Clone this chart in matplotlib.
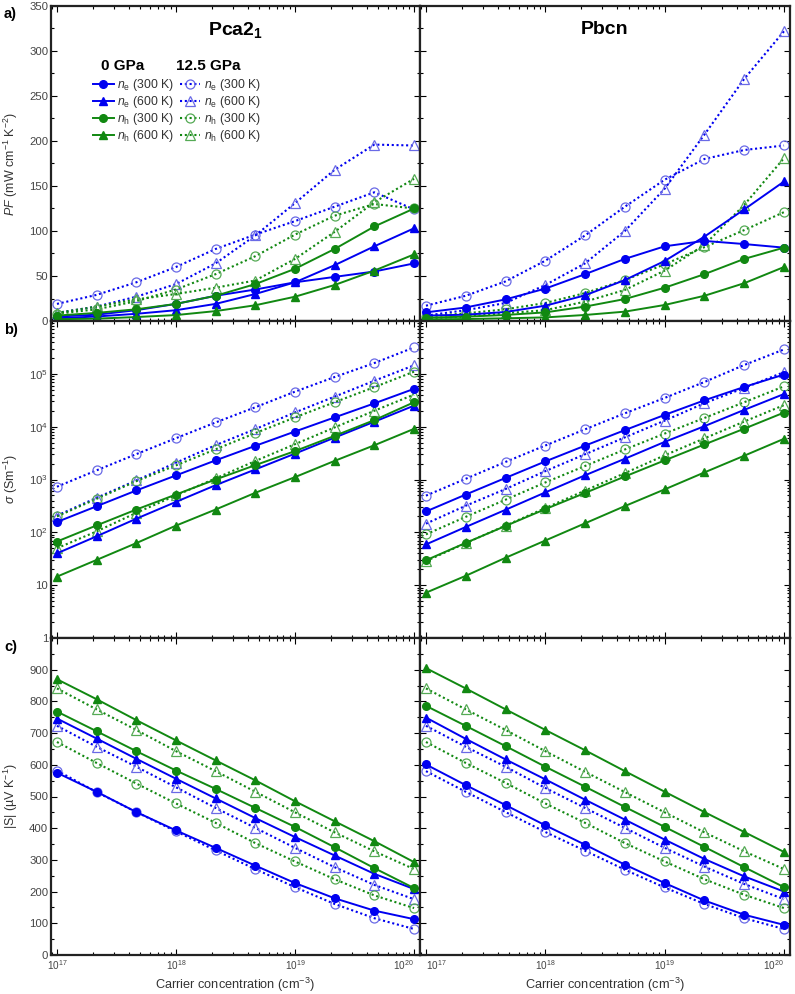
import numpy as np
import matplotlib.pyplot as plt
from matplotlib.ticker import MultipleLocator, LogLocator, NullFormatter, FixedLocator, FixedFormatter

plt.rcParams['font.family'] = ['Liberation Sans', 'DejaVu Sans']
plt.rcParams['mathtext.fontset'] = 'custom'
plt.rcParams['mathtext.rm'] = 'Liberation Sans'
plt.rcParams['mathtext.it'] = 'Liberation Sans:italic'
plt.rcParams['mathtext.bf'] = 'Liberation Sans:bold'

# === Data ===
carrier = [1e17, 2.15e17, 4.64e17, 1e18, 2.15e18, 4.64e18, 1e19, 2.15e19, 4.64e19, 1e20]

# Pca2_1, power factor (mW cm-1 K-2)
pca_pf_ne300_0 = [5, 7, 12, 19, 28, 35, 43, 49, 55, 64]
pca_pf_ne600_0 = [3, 5, 8, 12, 19, 30, 43, 62, 83, 103]
pca_pf_nh300_0 = [6, 9, 13, 19, 28, 41, 58, 80, 105, 125]
pca_pf_nh600_0 = [2, 2.6, 4.4, 6.6, 11, 17.5, 27, 40, 56, 74]
pca_pf_ne300_12 = [19, 29, 43, 60, 80, 96, 111, 127, 143, 124]
pca_pf_ne600_12 = [9, 16, 27, 41, 64, 95, 131, 168, 196, 195]
pca_pf_nh300_12 = [8, 13, 22, 35, 52, 72, 96, 117, 130, 125]
pca_pf_nh600_12 = [9, 16, 24, 30, 37, 45, 69, 99, 132, 158]

# Pbcn, power factor
pbcn_pf_ne300_0 = [9.6, 15, 24, 36, 52, 69, 83, 89, 85.5, 81.5]
pbcn_pf_ne600_0 = [6, 7, 10, 17, 28.5, 45.5, 66.7, 93.7, 124, 155]
pbcn_pf_nh300_0 = [3.7, 4.8, 6.7, 9.6, 16, 24.4, 37, 52, 69, 81.5]
pbcn_pf_nh600_0 = [1.8, 2.2, 3, 4, 6.7, 10.4, 17.8, 28, 42, 60]
pbcn_pf_ne300_12 = [17, 28, 44, 67, 95, 127, 157, 180, 190, 195]
pbcn_pf_ne600_12 = [6, 12, 20, 40, 64, 100, 147, 207, 269, 322]
pbcn_pf_nh300_12 = [5, 8.5, 13, 20, 31, 45.5, 63, 82, 101, 121]
pbcn_pf_nh600_12 = [3, 4.8, 8.7, 12, 21.5, 34.5, 56, 84.5, 129, 181]

# Pca2_1, conductivity (S m-1)
pca_sig_ne300_0 = [157, 311, 620, 1195, 2300, 4340, 8100, 14960, 27600, 52000]
pca_sig_ne600_0 = [40, 84, 181, 377, 780, 1550, 3090, 6200, 12400, 25000]
pca_sig_nh300_0 = [67, 135, 270, 520, 1000, 1870, 3450, 6700, 13300, 29000]
pca_sig_nh600_0 = [14.5, 30, 62.5, 134, 270, 560, 1110, 2250, 4450, 9100]
pca_sig_ne300_12 = [730, 1490, 3020, 6050, 12000, 23300, 46000, 87000, 160000, 316000]
pca_sig_ne600_12 = [207, 450, 960, 2080, 4460, 9000, 18600, 37000, 74000, 145000]
pca_sig_nh300_12 = [200, 430, 930, 1850, 3730, 7550, 15000, 29000, 56000, 110000]
pca_sig_nh600_12 = [50, 104, 234, 500, 1050, 2240, 4660, 9660, 20000, 40500]

# Pbcn, conductivity
pbcn_sig_ne300_0 = [248, 518, 1070, 2200, 4370, 8600, 16700, 31500, 56500, 97000]
pbcn_sig_ne600_0 = [59, 126, 267, 570, 1200, 2470, 5150, 10200, 20800, 41500]
pbcn_sig_nh300_0 = [29.6, 63, 132, 275, 556, 1140, 2300, 4600, 9150, 18500]
pbcn_sig_nh600_0 = [7.2, 15, 33, 70, 148, 314, 650, 1360, 2820, 5900]
pbcn_sig_ne300_12 = [495, 1030, 2150, 4400, 8900, 17900, 35000, 70000, 147000, 290000]
pbcn_sig_ne600_12 = [146, 318, 660, 1440, 3000, 6270, 13000, 27800, 54000, 108000]
pbcn_sig_nh300_12 = [91.5, 196, 414, 880, 1800, 3700, 7400, 14600, 29000, 58000]
pbcn_sig_nh600_12 = [28.5, 62.5, 134, 288, 617, 1320, 2870, 6000, 12500, 25600]

# Pca2_1, |S| (uV K-1)
pca_s_ne300_0 = [575, 515, 451, 393, 338, 282, 227, 179, 140, 113]
pca_s_ne600_0 = [746, 683, 619, 556, 494, 432, 372, 314, 256, 208]
pca_s_nh300_0 = [768, 706, 643, 582, 524, 464, 404, 340, 274, 211]
pca_s_nh600_0 = [870, 807, 741, 677, 614, 551, 485, 422, 359, 293]
pca_s_ne300_12 = [582, 514, 451, 390, 330, 271, 214, 161, 116, 82]
pca_s_ne600_12 = [723, 657, 594, 529, 464, 401, 338, 277, 221, 176]
pca_s_nh300_12 = [672, 606, 541, 478, 417, 353, 295, 239, 188, 148]
pca_s_nh600_12 = [841, 775, 710, 643, 580, 515, 450, 387, 327, 271]

# Pbcn, |S|
pbcn_s_ne300_0 = [601, 536, 473, 409, 348, 285, 227, 172, 127, 95]
pbcn_s_ne600_0 = [749, 682, 617, 554, 490, 427, 364, 303, 248, 200]
pbcn_s_nh300_0 = [786, 723, 659, 594, 531, 467, 404, 341, 277, 214]
pbcn_s_nh600_0 = [905, 841, 775, 710, 646, 580, 515, 451, 388, 325]
pbcn_s_ne300_12 = [580, 515, 451, 388, 329, 269, 213, 161, 116, 82]
pbcn_s_ne600_12 = [723, 657, 594, 527, 464, 401, 338, 279, 224, 176]
pbcn_s_nh300_12 = [672, 606, 543, 478, 417, 353, 295, 239, 190, 148]
pbcn_s_nh600_12 = [841, 775, 710, 643, 578, 514, 450, 387, 327, 271]

labels = [r'$n_\mathrm{e}$ (300 K)', r'$n_\mathrm{e}$ (600 K)',
          r'$n_\mathrm{h}$ (300 K)', r'$n_\mathrm{h}$ (600 K)']

# === Styles ===
blue = '#0000f0'
blue_light = '#6a6ae6'
green = '#118811'
green_light = '#55aa55'
solid_styles = [(blue, 'o'), (blue, '^'), (green, 'o'), (green, '^')]
dotted_styles = [(blue, blue_light, 'o'), (blue, blue_light, '^'),
                 (green, green_light, 'o'), (green, green_light, '^')]

panels = [
    [[pca_pf_ne300_0, pca_pf_ne600_0, pca_pf_nh300_0, pca_pf_nh600_0],
     [pca_pf_ne300_12, pca_pf_ne600_12, pca_pf_nh300_12, pca_pf_nh600_12],
     [pbcn_pf_ne300_0, pbcn_pf_ne600_0, pbcn_pf_nh300_0, pbcn_pf_nh600_0],
     [pbcn_pf_ne300_12, pbcn_pf_ne600_12, pbcn_pf_nh300_12, pbcn_pf_nh600_12]],
    [[pca_sig_ne300_0, pca_sig_ne600_0, pca_sig_nh300_0, pca_sig_nh600_0],
     [pca_sig_ne300_12, pca_sig_ne600_12, pca_sig_nh300_12, pca_sig_nh600_12],
     [pbcn_sig_ne300_0, pbcn_sig_ne600_0, pbcn_sig_nh300_0, pbcn_sig_nh600_0],
     [pbcn_sig_ne300_12, pbcn_sig_ne600_12, pbcn_sig_nh300_12, pbcn_sig_nh600_12]],
    [[pca_s_ne300_0, pca_s_ne600_0, pca_s_nh300_0, pca_s_nh600_0],
     [pca_s_ne300_12, pca_s_ne600_12, pca_s_nh300_12, pca_s_nh600_12],
     [pbcn_s_ne300_0, pbcn_s_ne600_0, pbcn_s_nh300_0, pbcn_s_nh600_0],
     [pbcn_s_ne300_12, pbcn_s_ne600_12, pbcn_s_nh300_12, pbcn_s_nh600_12]],
]

# === Figure ===
W, H = 795, 994
fig = plt.figure(figsize=(W / 100, H / 100), dpi=100)
col_x = [(51, 420), (420, 790)]
row_y = [(6, 321), (321, 638), (638, 955)]

tick_col = '#444444'
label_col = '#333333'
axes = []
for r in range(3):
    row = []
    for c in range(2):
        x0, x1 = col_x[c]
        y0, y1 = row_y[r]
        ax = fig.add_axes([x0 / W, 1 - y1 / H, (x1 - x0) / W, (y1 - y0) / H])
        row.append(ax)
    axes.append(row)

for r in range(3):
    for c in range(2):
        ax = axes[r][c]
        sets0 = panels[r][2 * c]
        sets12 = panels[r][2 * c + 1]
        handles0 = []
        handles12 = []
        for k in range(4):
            col, mk = solid_styles[k]
            h, = ax.plot(carrier, sets0[k], color=col, marker=mk, ms=5.5, lw=1.4,
                         ls='-', markeredgecolor=col, label=labels[k], zorder=3)
            handles0.append(h)
        for k in range(4):
            lc, mc, mk = dotted_styles[k]
            h, = ax.plot(carrier, sets12[k], color=lc, marker=mk, ms=6.5, lw=1.5,
                         ls=(0, (1, 1.3)), markerfacecolor='none', markeredgecolor=mc,
                         markeredgewidth=0.9, label=labels[k], zorder=2)
            handles12.append(h)

        ax.set_xscale('log')
        ax.set_xlim(10 ** 16.95, 10 ** 20.05)
        ax.xaxis.set_major_locator(FixedLocator([1e17, 1e18, 1e19, 1e20]))
        ax.xaxis.set_minor_locator(LogLocator(base=10, subs=np.arange(2, 10)))
        ax.xaxis.set_minor_formatter(NullFormatter())
        if r == 2:
            ax.xaxis.set_major_formatter(FixedFormatter(
                [r'$10^{17}$', r'$10^{18}$', r'$10^{19}$', r'$10^{20}$']))
            ax.set_xlabel('Carrier concentration (cm$^{-3}$)', fontsize=9.2,
                          color=label_col, labelpad=3)
        else:
            ax.xaxis.set_major_formatter(NullFormatter())

        if r == 0:
            ax.set_ylim(0, 350)
            ax.yaxis.set_major_locator(MultipleLocator(50))
            ax.yaxis.set_minor_locator(MultipleLocator(25))
        elif r == 1:
            ax.set_yscale('log')
            ax.set_ylim(1, 1e6)
            ax.yaxis.set_major_locator(FixedLocator([1, 10, 1e2, 1e3, 1e4, 1e5, 1e6]))
            ax.yaxis.set_minor_locator(LogLocator(base=10, subs=np.arange(2, 10)))
            ax.yaxis.set_minor_formatter(NullFormatter())
            ax.yaxis.set_major_formatter(FixedFormatter(
                ['1', '10', r'$10^2$', r'$10^3$', r'$10^4$', r'$10^5$', '']))
        else:
            ax.set_ylim(0, 1000)
            ax.yaxis.set_major_locator(FixedLocator(list(range(0, 1000, 100))))
            ax.yaxis.set_minor_locator(MultipleLocator(50))

        ax.tick_params(which='both', direction='in', top=True, right=True,
                       labelcolor=tick_col, width=0.8)
        ax.tick_params(which='major', length=4.5)
        ax.tick_params(which='minor', length=2.5)
        ax.tick_params(axis='y', labelsize=8.2, pad=2)
        ax.tick_params(axis='x', labelsize=7.2, pad=2)
        if c == 1:
            ax.tick_params(axis='y', labelleft=False)
        for sp in ax.spines.values():
            sp.set_linewidth(1.6)
            sp.set_color('#222222')

        if r == 0 and c == 0:
            leg = ax.legend(handles=handles0 + handles12, ncol=2, frameon=False,
                            loc='upper left', bbox_to_anchor=(0.1, 0.79),
                            fontsize=8.8, handlelength=1.7, handletextpad=0.3,
                            labelspacing=0.08, columnspacing=0.45, borderaxespad=0)
            for t in leg.get_texts():
                t.set_color(label_col)
            ax.text(0.195, 0.808, '0 GPa', transform=ax.transAxes, ha='center',
                    va='center', fontsize=11, fontweight='bold')
            ax.text(0.425, 0.808, '12.5 GPa', transform=ax.transAxes, ha='center',
                    va='center', fontsize=11, fontweight='bold')

# keep the adjacent 10^20 / 10^17 labels apart at the shared edge
axes[2][0].get_xticklabels()[-1].set_ha('right')
axes[2][1].get_xticklabels()[0].set_ha('left')
axes[2][1].get_xticklabels()[-1].set_ha('right')

axes[0][0].set_ylabel(r'$PF$ (mW cm$^{-1}$ K$^{-2}$)', fontsize=9, color=label_col)
axes[1][0].set_ylabel(r'$\sigma$ (Sm$^{-1}$)', fontsize=9, color=label_col)
axes[2][0].set_ylabel('|S| (\u00b5V K$^{-1}$)', fontsize=9, color=label_col)
for ax in (axes[0][0], axes[1][0], axes[2][0]):
    ax.yaxis.set_label_coords(-0.085, 0.5)

axes[0][0].text(0.5, 0.925, r'Pca2$_\mathbf{1}$', transform=axes[0][0].transAxes,
                ha='center', va='center', fontsize=14, fontweight='bold')
axes[0][1].text(0.5, 0.925, 'Pbcn', transform=axes[0][1].transAxes,
                ha='center', va='center', fontsize=14, fontweight='bold')

fig.text(4 / W, 1 - 14 / H, 'a)', fontsize=10.5, fontweight='bold', va='center')
fig.text(4 / W, 1 - 330 / H, 'b)', fontsize=10.5, fontweight='bold', va='center')
fig.text(4 / W, 1 - 647 / H, 'c)', fontsize=10.5, fontweight='bold', va='center')

fig.savefig('out.png', dpi=100)
